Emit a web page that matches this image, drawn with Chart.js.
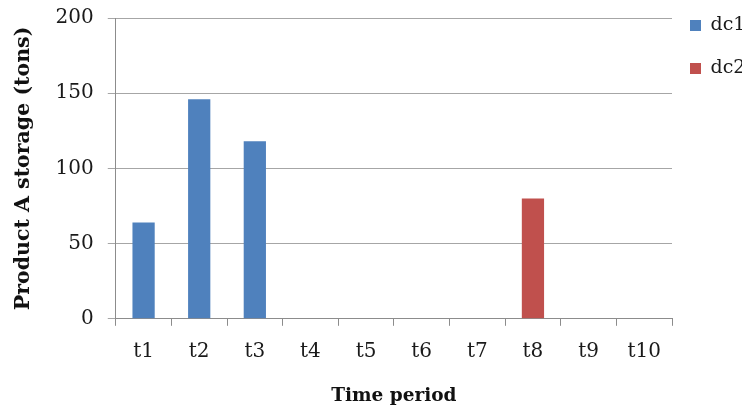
<!DOCTYPE html>
<html>
<head>
<meta charset="utf-8">
<script src="https://cdn.jsdelivr.net/npm/chart.js@4/dist/chart.umd.min.js"></script>
<style>
  html, body { margin: 0; padding: 0; background: #fff; }
  #wrap { width: 753px; height: 413px; position: relative; }
</style>
</head>
<body>
<div id="wrap"><canvas id="c"></canvas></div>
<script>
// Storage of product A per time period, per distribution centre
const periods = ['t1', 't2', 't3', 't4', 't5', 't6', 't7', 't8', 't9', 't10'];
const dc1Values = [64, 146, 118, null, null, null, null, null, null, null];
const dc2Values = [null, null, null, null, null, null, null, 80, null, null];
const yTicks = [0, 50, 100, 150, 200];

const serif = '"DejaVu Serif", serif';
const gridGrey = '#a6a6a6';
const axisGrey = '#8c8c8c';
const textColor = '#1a1a1a';

// Tuck the legend up beside the top of the plot, close to its right edge
const legendShift = {
  id: 'legendShift',
  afterLayout(chart) {
    const lg = chart.legend;
    if (!lg) return;
    lg.top -= 26; lg.bottom -= 26;
    lg.left -= 6; lg.right -= 6;
  }
};

new Chart(document.getElementById('c'), {
  type: 'bar',
  data: {
    labels: periods,
    datasets: [
      { label: 'dc1', data: dc1Values, backgroundColor: '#4F81BD', grouped: false },
      { label: 'dc2', data: dc2Values, backgroundColor: '#C0504D', grouped: false }
    ]
  },
  plugins: [legendShift],
  options: {
    responsive: true,
    maintainAspectRatio: false,
    animation: false,
    categoryPercentage: 1,
    barPercentage: 0.4,
    layout: { padding: { left: 11, top: 18, right: 5, bottom: 4 } },
    plugins: {
      tooltip: { enabled: false },
      legend: {
        position: 'right',
        align: 'start',
        maxWidth: 76,
        labels: {
          boxWidth: 11,
          boxHeight: 11,
          padding: 24,
          color: textColor,
          font: { family: serif, size: 19 }
        }
      }
    },
    scales: {
      x: {
        grid: { offset: true, drawOnChartArea: false, tickLength: 7, color: axisGrey },
        border: { color: axisGrey },
        ticks: { color: textColor, padding: 14, font: { family: serif, size: 20 } },
        title: {
          display: true,
          text: 'Time period',
          color: '#111',
          padding: { top: 7, bottom: 2 },
          font: { family: serif, size: 18.5, weight: 'bold' }
        }
      },
      y: {
        min: 0,
        max: 200,
        afterBuildTicks: (axis) => { axis.ticks = yTicks.map(v => ({ value: v })); },
        grid: { color: gridGrey, tickLength: 8 },
        border: { color: axisGrey },
        ticks: { color: textColor, padding: 14, font: { family: serif, size: 20, lineHeight: 0.3 } },
        title: {
          display: true,
          text: 'Product A storage (tons)',
          color: '#111',
          padding: { top: 0, bottom: 6 },
          font: { family: serif, size: 20.5, weight: 'bold' }
        }
      }
    }
  }
});
</script>
</body>
</html>
